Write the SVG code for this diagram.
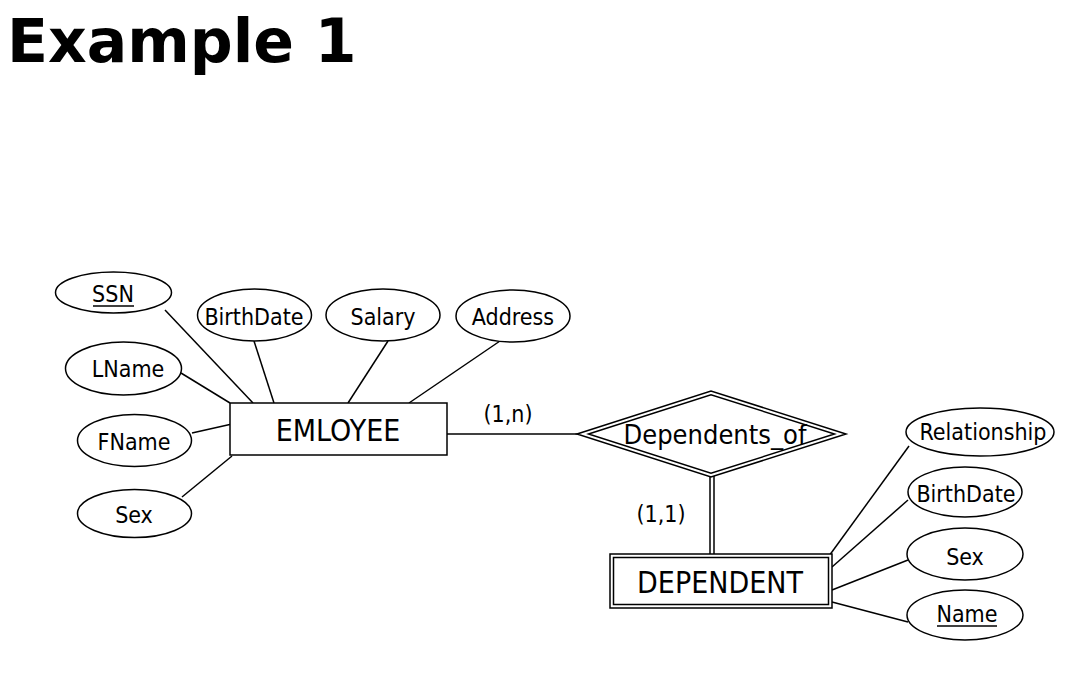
<svg xmlns="http://www.w3.org/2000/svg" width="1074" height="676" viewBox="0 0 1074 676">
<style>
.bg{fill:#fff}
.sh{fill:#fff;stroke:#000;stroke-width:1.5}
.ln{stroke:#000;stroke-width:1.5;fill:none}
.t{font-family:"DejaVu Sans Condensed","DejaVu Sans",sans-serif;font-stretch:condensed;fill:#000;text-anchor:middle}
.a{font-size:23px}
.e{font-size:30px}
.title{font-family:"DejaVu Sans",Verdana,sans-serif;font-weight:bold;font-size:60px;fill:#000}
</style>
<rect class="bg" x="0" y="0" width="1074" height="676"/>
<text class="title" x="7" y="62">Example 1</text>

<g id="connectors">
<line class="ln" x1="165" y1="310" x2="253" y2="403"/>
<line class="ln" x1="181" y1="373" x2="230" y2="403"/>
<line class="ln" x1="254" y1="341" x2="274" y2="403"/>
<line class="ln" x1="388" y1="341" x2="348" y2="403"/>
<line class="ln" x1="500" y1="341" x2="409" y2="403"/>
<line class="ln" x1="192" y1="433" x2="232" y2="424"/>
<line class="ln" x1="182" y1="497" x2="232" y2="456"/>
<line class="ln" x1="447" y1="434" x2="578" y2="434"/>
<line class="ln" x1="710" y1="475" x2="710" y2="554"/>
<line class="ln" x1="714" y1="475" x2="714" y2="554"/>
<line class="ln" x1="909" y1="446" x2="829" y2="556"/>
<line class="ln" x1="908" y1="500" x2="832" y2="567"/>
<line class="ln" x1="908" y1="560" x2="832" y2="590"/>
<line class="ln" x1="908" y1="622" x2="832" y2="602"/>
</g>

<g id="ssn"><ellipse class="sh" cx="113.5" cy="292.5" rx="58" ry="20.5"/><text class="t a" x="113" y="302">SSN</text><line class="ln" x1="93" y1="306" x2="134" y2="306"/></g>
<g id="birthdate1"><ellipse class="sh" cx="254.5" cy="315" rx="57" ry="26"/><text class="t a" x="254" y="325">BirthDate</text></g>
<g id="salary"><ellipse class="sh" cx="383" cy="315" rx="57" ry="26"/><text class="t a" x="383" y="325">Salary</text></g>
<g id="address"><ellipse class="sh" cx="513" cy="316" rx="57" ry="26"/><text class="t a" x="513" y="325">Address</text></g>
<g id="lname"><ellipse class="sh" cx="123.5" cy="368.5" rx="58" ry="26.5"/><text class="t a" x="128" y="377">LName</text></g>
<g id="fname"><ellipse class="sh" cx="134.5" cy="440.5" rx="57" ry="26"/><text class="t a" x="134" y="450">FName</text></g>
<g id="sex1"><ellipse class="sh" cx="134.5" cy="513.5" rx="57" ry="24"/><text class="t a" x="134" y="523">Sex</text></g>

<g id="employee"><rect class="sh" x="230" y="403" width="217" height="52"/><text class="t e" x="338" y="441">EMLOYEE</text></g>

<g id="dependents_of">
<polygon class="sh" points="577,434 711,391 846,434 711,477"/>
<polygon class="ln" points="588.5,434 711,394.7 834.5,434 711,473.3"/>
<text class="t" style="font-size:27px" x="715" y="444">Dependents_of</text>
</g>

<g id="dependent">
<rect class="sh" x="610" y="554" width="222" height="54"/>
<rect class="ln" x="613.5" y="557.5" width="215" height="47"/>
<text class="t e" x="720" y="593">DEPENDENT</text>
</g>

<g id="relationship"><ellipse class="sh" cx="980" cy="432" rx="74" ry="24"/><text class="t a" x="983" y="440">Relationship</text></g>
<g id="birthdate2"><ellipse class="sh" cx="965" cy="492" rx="57" ry="25"/><text class="t a" x="966" y="502">BirthDate</text></g>
<g id="sex2"><ellipse class="sh" cx="965" cy="554" rx="58" ry="26"/><text class="t a" x="965" y="565">Sex</text></g>
<g id="name"><ellipse class="sh" cx="965" cy="615" rx="58" ry="25"/><text class="t a" x="967" y="622">Name</text><line class="ln" x1="937" y1="626" x2="997" y2="626"/></g>

<g id="labels">
<text class="t a" x="508" y="422">(1,n)</text>
<text class="t a" x="661" y="522">(1,1)</text>
</g>
</svg>
